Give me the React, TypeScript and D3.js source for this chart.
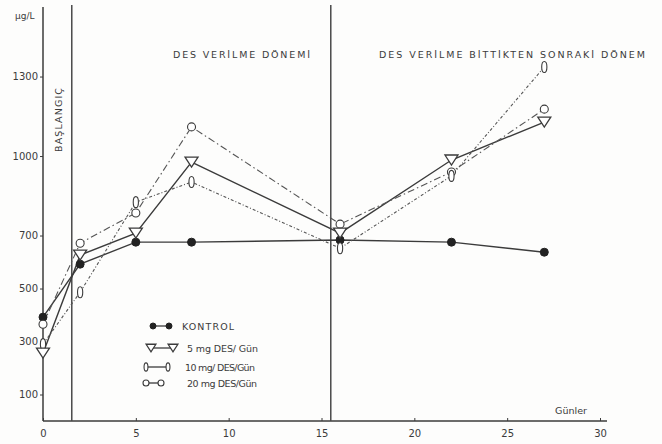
import { useEffect, useRef } from "react";
import * as d3 from "d3";

// values (µg/L)
const days = [0, 2, 5, 8, 16, 22, 27];
const kontrol = [392, 592, 675, 675, 683, 675, 637];
const des5 = [256, 626, 709, 977, 709, 985, 1128];
const des10 = [290, 486, 826, 902, 652, 925, 1336];
const des20 = [365, 671, 785, 1110, 743, 940, 1177];

const xTicks = [0, 5, 10, 15, 20, 25, 30];
const yTicks = [100, 300, 500, 700, 1000, 1300];
const periodLines = [1.55, 15.5];

const seriesNames = ["KONTROL", "5 mg DES/ Gün", "10 mg/ DES/Gün", "20 mg DES/Gün"];
const seriesValues = [kontrol, des5, des10, des20];
const markerKinds = ["dot", "triangle", "ellipse", "circle"];
const dashes = [null, null, "3,2,1,2", "7,3,1.5,3"];

const W = 662;
const H = 444;
const ink = "#3b3b3b";
const font = "'DejaVu Sans', 'Liberation Sans', sans-serif";

function drawMarker(g, kind, cx, cy, small = false) {
  const s = small ? 0.75 : 1;
  if (kind === "dot") {
    g.append("circle").attr("cx", cx).attr("cy", cy).attr("r", 4 * s)
      .attr("fill", "#222").attr("stroke", "#222");
  } else if (kind === "triangle") {
    const w = 13 * s, h = 10 * s;
    g.append("path")
      .attr("d", `M${cx - w / 2},${cy - h / 2}L${cx + w / 2},${cy - h / 2}L${cx},${cy + h / 2}Z`)
      .attr("fill", "white").attr("stroke", ink).attr("stroke-width", 1.3);
  } else if (kind === "ellipse") {
    g.append("ellipse").attr("cx", cx).attr("cy", cy).attr("rx", 2.6 * s).attr("ry", 5.5 * s)
      .attr("fill", "white").attr("stroke", ink).attr("stroke-width", 1.1);
  } else {
    g.append("circle").attr("cx", cx).attr("cy", cy).attr("r", 4 * s)
      .attr("fill", "white").attr("stroke", ink).attr("stroke-width", 1.1);
  }
}

export default function App() {
  const ref = useRef(null);

  useEffect(() => {
    if (!ref.current) return;
    const svg = d3.select(ref.current);
    svg.selectAll("*").remove();

    const x = d3.scaleLinear().domain([0, 30]).range([43, 600]);
    const y = d3.scaleLinear().domain([0, 1570]).range([421, 5]);

    svg.append("rect").attr("width", W).attr("height", H).attr("fill", "#fdfdfc");

    // x axis
    const gx = svg.append("g").attr("transform", `translate(0,${y(0)})`)
      .call(d3.axisBottom(x).tickValues(xTicks).tickSize(-3).tickPadding(9));
    gx.select(".domain").remove();
    gx.selectAll("line").attr("stroke", ink);
    gx.selectAll("text").attr("font-family", font).attr("font-size", 10).attr("fill", ink);
    svg.append("line").attr("x1", x(0)).attr("x2", 607).attr("y1", y(0)).attr("y2", y(0))
      .attr("stroke", ink).attr("stroke-width", 1.5);

    // y axis
    const gy = svg.append("g").attr("transform", `translate(${x(0)},0)`)
      .call(d3.axisLeft(y).tickValues(yTicks).tickFormat(d3.format("d")).tickSize(3).tickPadding(2));
    gy.select(".domain").remove();
    gy.selectAll("line").attr("stroke", ink);
    gy.selectAll("text").attr("font-family", font).attr("font-size", 10).attr("fill", ink);
    svg.append("line").attr("x1", x(0)).attr("x2", x(0)).attr("y1", 7).attr("y2", y(0))
      .attr("stroke", ink).attr("stroke-width", 1.5);

    svg.append("text").attr("x", 15).attr("y", 19).text("µg/L")
      .attr("font-family", font).attr("font-size", 9).attr("fill", ink);
    svg.append("text").attr("x", 555).attr("y", 414).text("Günler")
      .attr("font-family", font).attr("font-size", 9).attr("fill", ink)
      .attr("textLength", 32).attr("lengthAdjust", "spacingAndGlyphs");

    // period separators
    periodLines.forEach((d) => {
      svg.append("line").attr("x1", x(d)).attr("x2", x(d)).attr("y1", 5).attr("y2", y(0))
        .attr("stroke", "#4a4a4a").attr("stroke-width", 1.5);
    });

    svg.append("text").attr("transform", "translate(62,120) rotate(-90)")
      .attr("text-anchor", "middle").text("BAŞLANGIÇ")
      .attr("font-family", font).attr("font-size", 9.5).attr("fill", ink)
      .attr("textLength", 64).attr("lengthAdjust", "spacing");

    svg.append("text").attr("x", 173).attr("y", 58).text("DES   VERİLME   DÖNEMİ")
      .attr("font-family", font).attr("font-size", 9.5).attr("fill", ink)
      .attr("textLength", 137).attr("lengthAdjust", "spacing");
    svg.append("text").attr("x", 379).attr("y", 58).text("DES   VERİLME  BİTTİKTEN  SONRAKİ  DÖNEM")
      .attr("font-family", font).attr("font-size", 9.5).attr("fill", ink)
      .attr("textLength", 266).attr("lengthAdjust", "spacing");

    // series lines
    const line = d3.line().x((d) => x(d[0])).y((d) => y(d[1]));
    seriesValues.forEach((vals, i) => {
      const pts = days.map((d, j) => [d, vals[j]]);
      svg.append("path").attr("d", line(pts)).attr("fill", "none")
        .attr("stroke", i < 2 ? ink : "#555")
        .attr("stroke-width", i < 2 ? 1.4 : 1.1)
        .attr("stroke-dasharray", dashes[i]);
    });
    // markers
    const gm = svg.append("g");
    [0, 3, 2, 1].forEach((i) => {
      days.forEach((d, j) => drawMarker(gm, markerKinds[i], x(d), y(seriesValues[i][j])));
    });

    // legend
    const rowsY = [326, 348, 367, 383];
    const symX = [[153, 169], [151, 173], [146, 168], [146, 161]];
    const textX = [182, 187, 185, 187];
    const textLen = [52, 71, 70, 70];
    seriesNames.forEach((name, i) => {
      const gl = svg.append("g");
      gl.append("line").attr("x1", symX[i][0]).attr("x2", symX[i][1])
        .attr("y1", rowsY[i]).attr("y2", rowsY[i]).attr("stroke", ink).attr("stroke-width", 1.3);
      symX[i].forEach((sx) => drawMarker(gl, markerKinds[i], sx, rowsY[i], true));
      gl.append("text").attr("x", textX[i]).attr("y", rowsY[i] + 3.5).text(name)
        .attr("font-family", font).attr("font-size", 9.5).attr("fill", ink)
        .attr("textLength", textLen[i]).attr("lengthAdjust", "spacing");
    });
  }, []);

  return (
    <svg ref={ref} width={W} height={H}
      style={{ position: "absolute", left: 0, top: 0, display: "block" }} />
  );
}
